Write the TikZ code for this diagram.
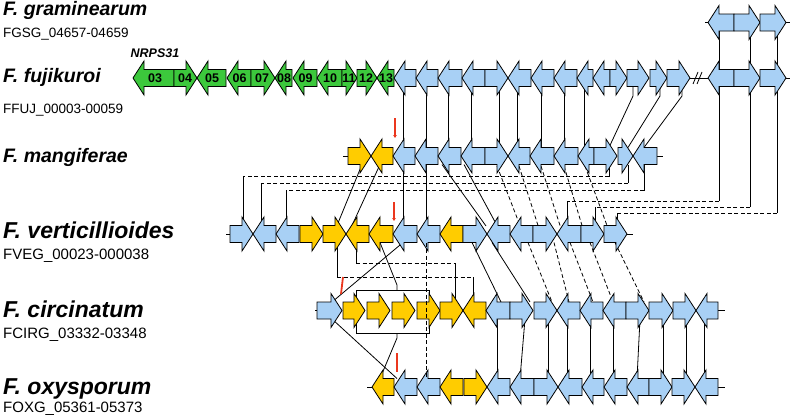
\documentclass[tikz,border=0pt]{standalone}
\usepackage{fontspec}
\setmainfont{Liberation Sans}
\usetikzlibrary{arrows.meta}
\definecolor{gblue}{RGB}{168,208,245}
\definecolor{gyel}{RGB}{255,204,0}
\definecolor{ggreen}{RGB}{60,200,60}
\definecolor{gred}{RGB}{235,55,30}
\tikzset{
 genebox/.style={draw=black, line width=0.8pt, line join=miter},
 conn/.style={line width=0.8pt},
 dconn/.style={line width=0.8pt, dash pattern=on 4pt off 2.5pt},
 species/.style={anchor=base west, inner sep=0pt, font=\fontsize{19.5}{20}\selectfont\bfseries\itshape},
 specbig/.style={anchor=base west, inner sep=0pt, font=\fontsize{23}{24}\selectfont\bfseries\itshape},
 locus/.style={anchor=base west, inner sep=0pt, font=\fontsize{13.5}{14}\selectfont},
 locbig/.style={anchor=base west, inner sep=0pt, font=\fontsize{15}{16}\selectfont},
 glab/.style={inner sep=0pt, font=\fontsize{12.5}{13}\selectfont\bfseries},
 redmark/.style={draw=gred, line width=1.8pt},
}
% right-pointing gene: colour, x start, x tip, y centre
\newcommand{\gR}[4]{\draw[genebox,fill=#1] (#2,#4-8.5) -- (#3-11,#4-8.5) -- (#3-11,#4-17) -- (#3,#4) -- (#3-11,#4+17) -- (#3-11,#4+8.5) -- (#2,#4+8.5) -- cycle;}
% left-pointing gene: colour, x tip, x end, y centre
\newcommand{\gL}[4]{\draw[genebox,fill=#1] (#3,#4-8.5) -- (#2+11,#4-8.5) -- (#2+11,#4-17) -- (#2,#4) -- (#2+11,#4+17) -- (#2+11,#4+8.5) -- (#3,#4+8.5) -- cycle;}
\begin{document}
\begin{tikzpicture}[x=1pt,y=-1pt]
\useasboundingbox (0,0) rectangle (795,415);
% ---------------- labels ----------------
\node[species] (sg) at (3,16) {F. graminearum};
\node[locus] (lg) at (3,37) {FGSG\_04657-04659};
\node[species] (sf) at (3,82) {F. fujikuroi};
\node[locus] (lf) at (3,113) {FFUJ\_00003-00059};
\node[species] (sm) at (3,162) {F. mangiferae};
\node[specbig] (sv) at (3,238) {F. verticillioides};
\node[locbig] (lv) at (3,259) {FVEG\_00023-000038};
\node[specbig] (sc) at (3,317) {F. circinatum};
\node[locbig] (lc) at (3,338) {FCIRG\_03332-03348};
\node[specbig] (so) at (3,394) {F. oxysporum};
\node[locbig] (lo) at (3,412) {FOXG\_05361-05373};
\node[inner sep=0pt, font=\fontsize{12.5}{13}\selectfont\bfseries\itshape] (nrps) at (155,53) {NRPS31};
% ---------------- connectors ----------------
% graminearum - fujikuroi
\foreach \x in {719,750,777} {\draw[conn] (\x,31) -- (\x,69.5);}
% fujikuroi - mangiferae
\foreach \x in {403,426,448,471,499,517,541,564,584} {\draw[conn] (\x,86.5) -- (\x,147.5);}
\draw[conn] (633,86.5) -- (633,96) -- (609,147.5);
\draw[conn] (660,86.5) -- (660,96) -- (628,147.5);
\draw[conn] (682,86.5) -- (682,96) -- (644,147.5);
% fujikuroi - verticillioides
\draw[conn] (719,86.5) -- (719,201); \draw[dconn] (719,201) -- (567,201); \draw[conn] (567,201) -- (567,225.5);
\draw[conn] (750,86.5) -- (750,207.3); \draw[dconn] (750,207.3) -- (595,207.3); \draw[conn] (595,207.3) -- (595,225.5);
\draw[conn] (777,86.5) -- (777,213.3); \draw[dconn] (777,213.3) -- (617,213.3); \draw[conn] (617,213.3) -- (617,225.5);
% mangiferae - verticillioides
\draw[conn] (609,164.5) -- (609,176.7); \draw[dconn] (609,176.7) -- (243,176.7); \draw[conn] (243,176.7) -- (243,225.5);
\draw[conn] (628,164.5) -- (628,183.3); \draw[dconn] (628,183.3) -- (261,183.3); \draw[conn] (261,183.3) -- (261,225.5);
\draw[conn] (644,164.5) -- (644,190.7); \draw[dconn] (644,190.7) -- (286,190.7); \draw[conn] (286,190.7) -- (286,225.5);
\draw[conn] (362,164.5) -- (337,225.5);
\draw[conn] (380,164.5) -- (352,225.5);
\draw[conn] (403,164.5) -- (403,225.5);
\draw[conn] (426,164.5) -- (426,225.5);
\draw[conn] (442,164.5) -- (486,226);
\draw[conn] (464,164.5) -- (497,225.5);
\draw[dconn] (497,166) -- (520,225.5);
\draw[dconn] (519,166) -- (538,225.5);
\draw[dconn] (541,166) -- (560,225.5);
\draw[dconn] (564,166) -- (582,225.5);
\draw[dconn] (585,166) -- (607,225.5);
% verticillioides - circinatum
\draw[conn] (337,242.5) -- (337,277); \draw[dconn] (337,277) -- (473,277); \draw[conn] (473,277) -- (473,302);
\draw[conn] (356,242.5) -- (356,263.3); \draw[dconn] (356,263.3) -- (455,263.3); \draw[conn] (455,263.3) -- (455,302);
\draw[conn] (380,242.5) -- (397,285) -- (397,290.7);
\draw[conn] (356,302) -- (356,290.7) -- (429,290.7) -- (429,302);
\draw[conn] (356,319) -- (356,333.3) -- (429,333.3) -- (429,319);
\draw[conn] (403,242.5) -- (332,302);
\draw[conn] (472,242.5) -- (501,302);
\draw[conn] (492,242.5) -- (530,302);
\draw[dconn] (528,242.5) -- (552,302);
\draw[dconn] (554,242.5) -- (569,302);
\draw[dconn] (570,242.5) -- (593,302);
\draw[dconn] (590,242.5) -- (613,302);
\draw[dconn] (615,242.5) -- (644,302);
% circinatum - oxysporum
\draw[conn] (332,319) -- (397,378.5);
\draw[conn] (397,333.3) -- (397,338) -- (380,378.5);
\foreach \x in {497,548,567,590,613,663,686,704} {\draw[conn] (\x,319) -- (\x,378.5);}
\draw[conn] (525,319) -- (520,378.5);
\draw[conn] (640,319) -- (637,378.5);
% stubs and break
\draw[conn] (705,22.5) -- (708,22.5); \draw[conn] (786,22.5) -- (790,22.5);
\draw[conn] (690,78) -- (708,78); \draw[conn] (786,78) -- (790,78);
\draw[conn] (343,156) -- (348,156); \draw[conn] (657,156) -- (663,156);
\draw[conn] (226,234) -- (230,234); \draw[conn] (627,234) -- (633,234);
\draw[conn] (315,310.5) -- (317,310.5); \draw[conn] (718,310.5) -- (725,310.5);
\draw[conn] (367,387) -- (372,387); \draw[conn] (718,387) -- (725,387);
% ---------------- genes ----------------
% graminearum
\gL{gblue}{708}{734}{22.5} \gR{gblue}{734}{760}{22.5} \gR{gblue}{760}{786}{22.5}
% fujikuroi green
\gL{ggreen}{133}{174}{78} \gR{ggreen}{174}{197}{78} \gL{ggreen}{197}{226}{78}
\gL{ggreen}{227}{251}{78} \gR{ggreen}{251}{275}{78} \gL{ggreen}{275}{292}{78}
\gL{ggreen}{293}{317}{78} \gL{ggreen}{317}{342}{78} \gR{ggreen}{342}{357}{78}
\gR{ggreen}{357}{377}{78} \gL{ggreen}{377}{394}{78}
\node[glab] (n03) at (155,78) {03};
\node[glab] (n04) at (185,78) {04};
\node[glab] (n05) at (212,78) {05};
\node[glab] (n06) at (239.5,78) {06};
\node[glab] (n07) at (262,78) {07};
\node[glab] (n08) at (284,78) {08};
\node[glab] (n09) at (305.5,78) {09};
\node[glab] (n10) at (330,78) {10};
\node[glab] (n11) at (349,78) {11};
\node[glab] (n12) at (366,78) {12};
\node[glab] (n13) at (386,78) {13};
% fujikuroi blue
\gL{gblue}{394}{416}{78} \gL{gblue}{416}{438}{78} \gL{gblue}{438}{462}{78} \gL{gblue}{462}{485}{78}
\gR{gblue}{485}{508}{78} \gL{gblue}{508}{531}{78} \gL{gblue}{531}{554}{78} \gL{gblue}{554}{577}{78}
\gL{gblue}{577}{593}{78} \gL{gblue}{593}{610}{78} \gR{gblue}{610}{627}{78} \gR{gblue}{627}{649}{78}
\gR{gblue}{650}{667}{78} \gR{gblue}{667}{690}{78}
\gL{gblue}{708}{734}{78} \gR{gblue}{734}{760}{78} \gR{gblue}{760}{786}{78}
\draw[conn] (693,84) -- (698,72); \draw[conn] (697,84) -- (702,72);
% mangiferae
\gR{gyel}{348}{371}{156} \gL{gyel}{371}{393}{156}
\gL{gblue}{393}{415}{156} \gL{gblue}{415}{438}{156} \gL{gblue}{438}{461}{156} \gL{gblue}{461}{485}{156}
\gR{gblue}{485}{508}{156} \gL{gblue}{508}{530}{156} \gL{gblue}{530}{554}{156} \gL{gblue}{554}{578}{156}
\gL{gblue}{578}{594}{156} \gR{gblue}{594}{617}{156} \gR{gblue}{618}{633}{156} \gL{gblue}{633}{657}{156}
% verticillioides
\gR{gblue}{230}{253}{234} \gL{gblue}{253}{276}{234} \gL{gblue}{276}{299}{234}
\gR{gyel}{300}{323}{234} \gR{gyel}{323}{346}{234} \gL{gyel}{346}{369}{234} \gL{gyel}{369}{393}{234}
\gL{gblue}{393}{417}{234} \gL{gblue}{417}{440}{234} \gL{gyel}{440}{463}{234}
\gR{gblue}{463}{487}{234} \gL{gblue}{487}{510}{234} \gL{gblue}{510}{533}{234} \gR{gblue}{533}{557}{234}
\gL{gblue}{557}{581}{234} \gR{gblue}{581}{604}{234} \gR{gblue}{604}{627}{234}
% circinatum
\gR{gblue}{317}{342}{310.5}
\gR{gyel}{343}{365}{310.5} \gR{gyel}{367}{390}{310.5} \gR{gyel}{392}{415}{310.5} \gR{gyel}{417}{440}{310.5}
\gR{gyel}{440}{463}{310.5} \gL{gyel}{463}{486}{310.5}
\gL{gblue}{486}{510}{310.5} \gR{gblue}{510}{533}{310.5} \gR{gblue}{534}{557}{310.5} \gL{gblue}{557}{580}{310.5}
\gL{gblue}{580}{603}{310.5} \gL{gblue}{603}{626}{310.5} \gR{gblue}{626}{649}{310.5} \gR{gblue}{649}{673}{310.5}
\gR{gblue}{673}{696}{310.5} \gL{gblue}{696}{718}{310.5}
% oxysporum
\gL{gyel}{372}{394}{387}
\gL{gblue}{394}{417}{387} \gL{gblue}{417}{440}{387} \gL{gyel}{440}{463}{387} \gR{gyel}{464}{487}{387}
\gL{gblue}{487}{510}{387} \gL{gblue}{510}{534}{387} \gR{gblue}{534}{558}{387} \gL{gblue}{558}{582}{387}
\gL{gblue}{582}{604}{387} \gL{gblue}{604}{627}{387} \gL{gblue}{627}{649}{387} \gR{gblue}{649}{672}{387}
\gR{gblue}{672}{695}{387} \gL{gblue}{695}{718}{387}
% dashed line crossing circinatum
\draw[dconn] (426,242.5) -- (426,378.5);
% red marks
\draw[redmark,-{Triangle[length=3pt,width=3.5pt]}] (395,118) -- (395,138);
\draw[redmark,-{Triangle[length=3pt,width=3.5pt]}] (394,202) -- (394,221);
\draw[redmark] (343,277) -- (341,294);
\draw[redmark] (397,353) -- (397,372);
\end{tikzpicture}
\end{document}
